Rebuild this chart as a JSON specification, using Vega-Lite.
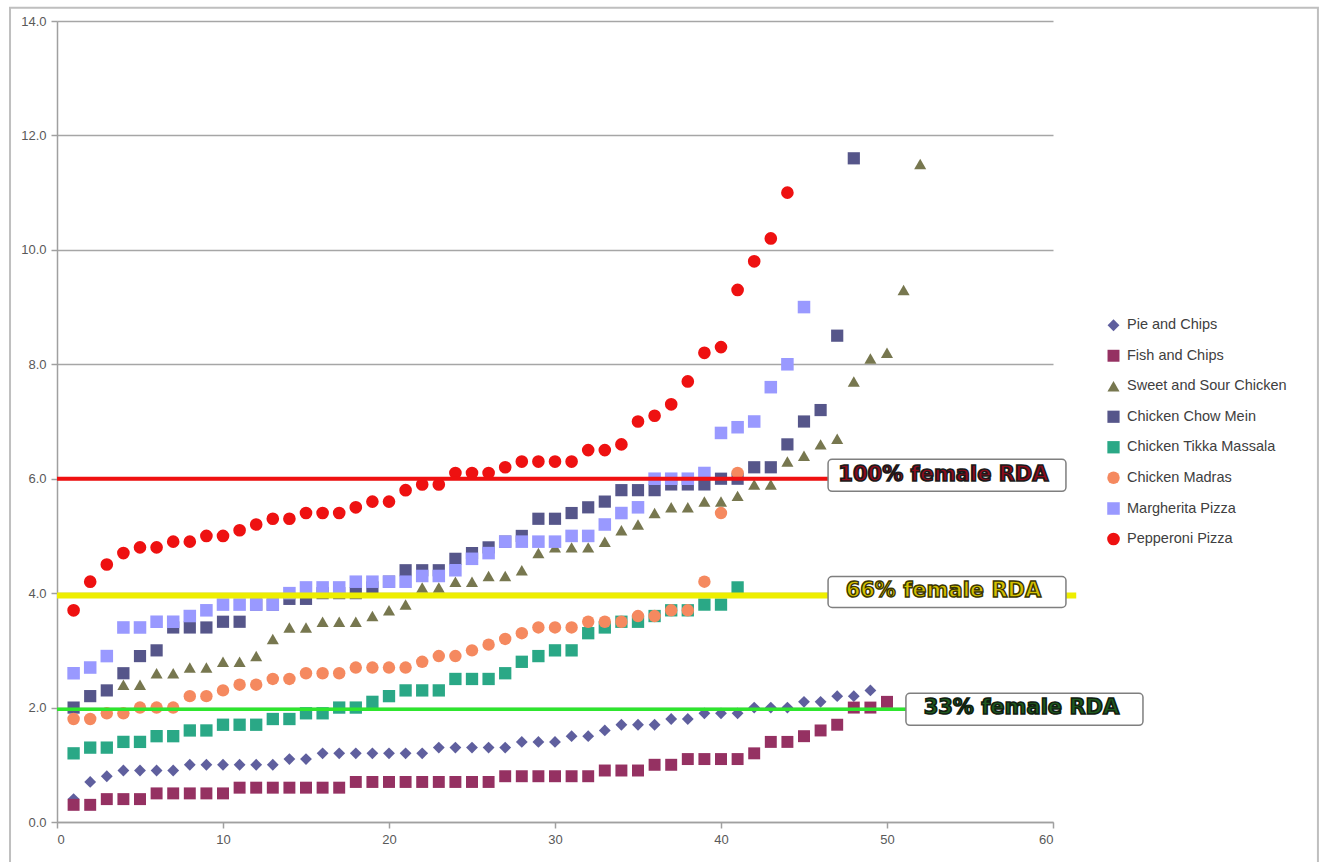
{
  "$schema": "https://vega.github.io/schema/vega-lite/v6.json",
  "width": 996,
  "height": 801,
  "autosize": "none",
  "padding": {"left": 57, "top": 21, "right": 274, "bottom": 40},
  "background": "white",
  "config": {
    "view": {"stroke": null},
    "font": "Liberation Sans",
    "axis": {"labelFont": "Liberation Sans", "labelFontSize": 13, "labelColor": "#595959", "domainColor": "#A0A0A0", "domainWidth": 1.5, "tickColor": "#A0A0A0", "tickWidth": 1.5, "tickSize": 6, "labelPadding": 5, "gridColor": "#A6A6A6", "gridWidth": 1.5}
  },
  "layer": [
    {
      "data": {"values": [{"x": -2.83, "x2": 75.96, "y": -1, "y2": 14.23}]},
      "mark": {"type": "rect", "fill": null, "fillOpacity": 0, "stroke": "#BFBFBF", "strokeWidth": 2, "clip": false},
      "encoding": {
        "x": {"field": "x", "type": "quantitative", "scale": {"domain": [0, 60], "nice": false}, "axis": {"title": null}},
        "x2": {"field": "x2"},
        "y": {"field": "y", "type": "quantitative", "scale": {"domain": [0, 14], "nice": false}, "axis": {"title": null}},
        "y2": {"field": "y2"}
      }
    },
    {
      "data": {"values": [
        {"s":"Pie and Chips","x":1,"y":0.4},{"s":"Pie and Chips","x":2,"y":0.7},{"s":"Pie and Chips","x":3,"y":0.8},{"s":"Pie and Chips","x":4,"y":0.9},{"s":"Pie and Chips","x":5,"y":0.9},{"s":"Pie and Chips","x":6,"y":0.9},{"s":"Pie and Chips","x":7,"y":0.9},{"s":"Pie and Chips","x":8,"y":1.0},{"s":"Pie and Chips","x":9,"y":1.0},{"s":"Pie and Chips","x":10,"y":1.0},
        {"s":"Pie and Chips","x":11,"y":1.0},{"s":"Pie and Chips","x":12,"y":1.0},{"s":"Pie and Chips","x":13,"y":1.0},{"s":"Pie and Chips","x":14,"y":1.1},{"s":"Pie and Chips","x":15,"y":1.1},{"s":"Pie and Chips","x":16,"y":1.2},{"s":"Pie and Chips","x":17,"y":1.2},{"s":"Pie and Chips","x":18,"y":1.2},{"s":"Pie and Chips","x":19,"y":1.2},{"s":"Pie and Chips","x":20,"y":1.2},
        {"s":"Pie and Chips","x":21,"y":1.2},{"s":"Pie and Chips","x":22,"y":1.2},{"s":"Pie and Chips","x":23,"y":1.3},{"s":"Pie and Chips","x":24,"y":1.3},{"s":"Pie and Chips","x":25,"y":1.3},{"s":"Pie and Chips","x":26,"y":1.3},{"s":"Pie and Chips","x":27,"y":1.3},{"s":"Pie and Chips","x":28,"y":1.4},{"s":"Pie and Chips","x":29,"y":1.4},{"s":"Pie and Chips","x":30,"y":1.4},
        {"s":"Pie and Chips","x":31,"y":1.5},{"s":"Pie and Chips","x":32,"y":1.5},{"s":"Pie and Chips","x":33,"y":1.6},{"s":"Pie and Chips","x":34,"y":1.7},{"s":"Pie and Chips","x":35,"y":1.7},{"s":"Pie and Chips","x":36,"y":1.7},{"s":"Pie and Chips","x":37,"y":1.8},{"s":"Pie and Chips","x":38,"y":1.8},{"s":"Pie and Chips","x":39,"y":1.9},{"s":"Pie and Chips","x":40,"y":1.9},
        {"s":"Pie and Chips","x":41,"y":1.9},{"s":"Pie and Chips","x":42,"y":2.0},{"s":"Pie and Chips","x":43,"y":2.0},{"s":"Pie and Chips","x":44,"y":2.0},{"s":"Pie and Chips","x":45,"y":2.1},{"s":"Pie and Chips","x":46,"y":2.1},{"s":"Pie and Chips","x":47,"y":2.2},{"s":"Pie and Chips","x":48,"y":2.2},{"s":"Pie and Chips","x":49,"y":2.3},

        {"s":"Fish and Chips","x":1,"y":0.3},{"s":"Fish and Chips","x":2,"y":0.3},{"s":"Fish and Chips","x":3,"y":0.4},{"s":"Fish and Chips","x":4,"y":0.4},{"s":"Fish and Chips","x":5,"y":0.4},{"s":"Fish and Chips","x":6,"y":0.5},{"s":"Fish and Chips","x":7,"y":0.5},{"s":"Fish and Chips","x":8,"y":0.5},{"s":"Fish and Chips","x":9,"y":0.5},{"s":"Fish and Chips","x":10,"y":0.5},
        {"s":"Fish and Chips","x":11,"y":0.6},{"s":"Fish and Chips","x":12,"y":0.6},{"s":"Fish and Chips","x":13,"y":0.6},{"s":"Fish and Chips","x":14,"y":0.6},{"s":"Fish and Chips","x":15,"y":0.6},{"s":"Fish and Chips","x":16,"y":0.6},{"s":"Fish and Chips","x":17,"y":0.6},{"s":"Fish and Chips","x":18,"y":0.7},{"s":"Fish and Chips","x":19,"y":0.7},{"s":"Fish and Chips","x":20,"y":0.7},
        {"s":"Fish and Chips","x":21,"y":0.7},{"s":"Fish and Chips","x":22,"y":0.7},{"s":"Fish and Chips","x":23,"y":0.7},{"s":"Fish and Chips","x":24,"y":0.7},{"s":"Fish and Chips","x":25,"y":0.7},{"s":"Fish and Chips","x":26,"y":0.7},{"s":"Fish and Chips","x":27,"y":0.8},{"s":"Fish and Chips","x":28,"y":0.8},{"s":"Fish and Chips","x":29,"y":0.8},{"s":"Fish and Chips","x":30,"y":0.8},
        {"s":"Fish and Chips","x":31,"y":0.8},{"s":"Fish and Chips","x":32,"y":0.8},{"s":"Fish and Chips","x":33,"y":0.9},{"s":"Fish and Chips","x":34,"y":0.9},{"s":"Fish and Chips","x":35,"y":0.9},{"s":"Fish and Chips","x":36,"y":1.0},{"s":"Fish and Chips","x":37,"y":1.0},{"s":"Fish and Chips","x":38,"y":1.1},{"s":"Fish and Chips","x":39,"y":1.1},{"s":"Fish and Chips","x":40,"y":1.1},
        {"s":"Fish and Chips","x":41,"y":1.1},{"s":"Fish and Chips","x":42,"y":1.2},{"s":"Fish and Chips","x":43,"y":1.4},{"s":"Fish and Chips","x":44,"y":1.4},{"s":"Fish and Chips","x":45,"y":1.5},{"s":"Fish and Chips","x":46,"y":1.6},{"s":"Fish and Chips","x":47,"y":1.7},{"s":"Fish and Chips","x":48,"y":2.0},{"s":"Fish and Chips","x":49,"y":2.0},{"s":"Fish and Chips","x":50,"y":2.1},

        {"s":"Sweet and Sour Chicken","x":4,"y":2.4},{"s":"Sweet and Sour Chicken","x":5,"y":2.4},{"s":"Sweet and Sour Chicken","x":6,"y":2.6},{"s":"Sweet and Sour Chicken","x":7,"y":2.6},{"s":"Sweet and Sour Chicken","x":8,"y":2.7},{"s":"Sweet and Sour Chicken","x":9,"y":2.7},{"s":"Sweet and Sour Chicken","x":10,"y":2.8},
        {"s":"Sweet and Sour Chicken","x":11,"y":2.8},{"s":"Sweet and Sour Chicken","x":12,"y":2.9},{"s":"Sweet and Sour Chicken","x":13,"y":3.2},{"s":"Sweet and Sour Chicken","x":14,"y":3.4},{"s":"Sweet and Sour Chicken","x":15,"y":3.4},{"s":"Sweet and Sour Chicken","x":16,"y":3.5},{"s":"Sweet and Sour Chicken","x":17,"y":3.5},{"s":"Sweet and Sour Chicken","x":18,"y":3.5},{"s":"Sweet and Sour Chicken","x":19,"y":3.6},{"s":"Sweet and Sour Chicken","x":20,"y":3.7},
        {"s":"Sweet and Sour Chicken","x":21,"y":3.8},{"s":"Sweet and Sour Chicken","x":22,"y":4.1},{"s":"Sweet and Sour Chicken","x":23,"y":4.1},{"s":"Sweet and Sour Chicken","x":24,"y":4.2},{"s":"Sweet and Sour Chicken","x":25,"y":4.2},{"s":"Sweet and Sour Chicken","x":26,"y":4.3},{"s":"Sweet and Sour Chicken","x":27,"y":4.3},{"s":"Sweet and Sour Chicken","x":28,"y":4.4},{"s":"Sweet and Sour Chicken","x":29,"y":4.7},{"s":"Sweet and Sour Chicken","x":30,"y":4.8},
        {"s":"Sweet and Sour Chicken","x":31,"y":4.8},{"s":"Sweet and Sour Chicken","x":32,"y":4.8},{"s":"Sweet and Sour Chicken","x":33,"y":4.9},{"s":"Sweet and Sour Chicken","x":34,"y":5.1},{"s":"Sweet and Sour Chicken","x":35,"y":5.2},{"s":"Sweet and Sour Chicken","x":36,"y":5.4},{"s":"Sweet and Sour Chicken","x":37,"y":5.5},{"s":"Sweet and Sour Chicken","x":38,"y":5.5},{"s":"Sweet and Sour Chicken","x":39,"y":5.6},{"s":"Sweet and Sour Chicken","x":40,"y":5.6},
        {"s":"Sweet and Sour Chicken","x":41,"y":5.7},{"s":"Sweet and Sour Chicken","x":42,"y":5.9},{"s":"Sweet and Sour Chicken","x":43,"y":5.9},{"s":"Sweet and Sour Chicken","x":44,"y":6.3},{"s":"Sweet and Sour Chicken","x":45,"y":6.4},{"s":"Sweet and Sour Chicken","x":46,"y":6.6},{"s":"Sweet and Sour Chicken","x":47,"y":6.7},{"s":"Sweet and Sour Chicken","x":48,"y":7.7},{"s":"Sweet and Sour Chicken","x":49,"y":8.1},{"s":"Sweet and Sour Chicken","x":50,"y":8.2},
        {"s":"Sweet and Sour Chicken","x":51,"y":9.3},{"s":"Sweet and Sour Chicken","x":52,"y":11.5},

        {"s":"Chicken Chow Mein","x":1,"y":2.0},{"s":"Chicken Chow Mein","x":2,"y":2.2},{"s":"Chicken Chow Mein","x":3,"y":2.3},{"s":"Chicken Chow Mein","x":4,"y":2.6},{"s":"Chicken Chow Mein","x":5,"y":2.9},{"s":"Chicken Chow Mein","x":6,"y":3.0},{"s":"Chicken Chow Mein","x":7,"y":3.4},{"s":"Chicken Chow Mein","x":8,"y":3.4},{"s":"Chicken Chow Mein","x":9,"y":3.4},{"s":"Chicken Chow Mein","x":10,"y":3.5},
        {"s":"Chicken Chow Mein","x":11,"y":3.5},{"s":"Chicken Chow Mein","x":12,"y":3.8},{"s":"Chicken Chow Mein","x":13,"y":3.8},{"s":"Chicken Chow Mein","x":14,"y":3.9},{"s":"Chicken Chow Mein","x":15,"y":3.9},{"s":"Chicken Chow Mein","x":16,"y":4.0},{"s":"Chicken Chow Mein","x":17,"y":4.0},{"s":"Chicken Chow Mein","x":18,"y":4.0},{"s":"Chicken Chow Mein","x":19,"y":4.1},{"s":"Chicken Chow Mein","x":20,"y":4.2},
        {"s":"Chicken Chow Mein","x":21,"y":4.4},{"s":"Chicken Chow Mein","x":22,"y":4.4},{"s":"Chicken Chow Mein","x":23,"y":4.4},{"s":"Chicken Chow Mein","x":24,"y":4.6},{"s":"Chicken Chow Mein","x":25,"y":4.7},{"s":"Chicken Chow Mein","x":26,"y":4.8},{"s":"Chicken Chow Mein","x":27,"y":4.9},{"s":"Chicken Chow Mein","x":28,"y":5.0},{"s":"Chicken Chow Mein","x":29,"y":5.3},{"s":"Chicken Chow Mein","x":30,"y":5.3},
        {"s":"Chicken Chow Mein","x":31,"y":5.4},{"s":"Chicken Chow Mein","x":32,"y":5.5},{"s":"Chicken Chow Mein","x":33,"y":5.6},{"s":"Chicken Chow Mein","x":34,"y":5.8},{"s":"Chicken Chow Mein","x":35,"y":5.8},{"s":"Chicken Chow Mein","x":36,"y":5.8},{"s":"Chicken Chow Mein","x":37,"y":5.9},{"s":"Chicken Chow Mein","x":38,"y":5.9},{"s":"Chicken Chow Mein","x":39,"y":5.9},{"s":"Chicken Chow Mein","x":40,"y":6.0},
        {"s":"Chicken Chow Mein","x":41,"y":6.0},{"s":"Chicken Chow Mein","x":42,"y":6.2},{"s":"Chicken Chow Mein","x":43,"y":6.2},{"s":"Chicken Chow Mein","x":44,"y":6.6},{"s":"Chicken Chow Mein","x":45,"y":7.0},{"s":"Chicken Chow Mein","x":46,"y":7.2},{"s":"Chicken Chow Mein","x":47,"y":8.5},{"s":"Chicken Chow Mein","x":48,"y":11.6},

        {"s":"Chicken Tikka Massala","x":1,"y":1.2},{"s":"Chicken Tikka Massala","x":2,"y":1.3},{"s":"Chicken Tikka Massala","x":3,"y":1.3},{"s":"Chicken Tikka Massala","x":4,"y":1.4},{"s":"Chicken Tikka Massala","x":5,"y":1.4},{"s":"Chicken Tikka Massala","x":6,"y":1.5},{"s":"Chicken Tikka Massala","x":7,"y":1.5},{"s":"Chicken Tikka Massala","x":8,"y":1.6},{"s":"Chicken Tikka Massala","x":9,"y":1.6},{"s":"Chicken Tikka Massala","x":10,"y":1.7},
        {"s":"Chicken Tikka Massala","x":11,"y":1.7},{"s":"Chicken Tikka Massala","x":12,"y":1.7},{"s":"Chicken Tikka Massala","x":13,"y":1.8},{"s":"Chicken Tikka Massala","x":14,"y":1.8},{"s":"Chicken Tikka Massala","x":15,"y":1.9},{"s":"Chicken Tikka Massala","x":16,"y":1.9},{"s":"Chicken Tikka Massala","x":17,"y":2.0},{"s":"Chicken Tikka Massala","x":18,"y":2.0},{"s":"Chicken Tikka Massala","x":19,"y":2.1},{"s":"Chicken Tikka Massala","x":20,"y":2.2},
        {"s":"Chicken Tikka Massala","x":21,"y":2.3},{"s":"Chicken Tikka Massala","x":22,"y":2.3},{"s":"Chicken Tikka Massala","x":23,"y":2.3},{"s":"Chicken Tikka Massala","x":24,"y":2.5},{"s":"Chicken Tikka Massala","x":25,"y":2.5},{"s":"Chicken Tikka Massala","x":26,"y":2.5},{"s":"Chicken Tikka Massala","x":27,"y":2.6},{"s":"Chicken Tikka Massala","x":28,"y":2.8},{"s":"Chicken Tikka Massala","x":29,"y":2.9},{"s":"Chicken Tikka Massala","x":30,"y":3.0},
        {"s":"Chicken Tikka Massala","x":31,"y":3.0},{"s":"Chicken Tikka Massala","x":32,"y":3.3},{"s":"Chicken Tikka Massala","x":33,"y":3.4},{"s":"Chicken Tikka Massala","x":34,"y":3.5},{"s":"Chicken Tikka Massala","x":35,"y":3.5},{"s":"Chicken Tikka Massala","x":36,"y":3.6},{"s":"Chicken Tikka Massala","x":37,"y":3.7},{"s":"Chicken Tikka Massala","x":38,"y":3.7},{"s":"Chicken Tikka Massala","x":39,"y":3.8},{"s":"Chicken Tikka Massala","x":40,"y":3.8},
        {"s":"Chicken Tikka Massala","x":41,"y":4.1},

        {"s":"Chicken Madras","x":1,"y":1.8},{"s":"Chicken Madras","x":2,"y":1.8},{"s":"Chicken Madras","x":3,"y":1.9},{"s":"Chicken Madras","x":4,"y":1.9},{"s":"Chicken Madras","x":5,"y":2.0},{"s":"Chicken Madras","x":6,"y":2.0},{"s":"Chicken Madras","x":7,"y":2.0},{"s":"Chicken Madras","x":8,"y":2.2},{"s":"Chicken Madras","x":9,"y":2.2},{"s":"Chicken Madras","x":10,"y":2.3},
        {"s":"Chicken Madras","x":11,"y":2.4},{"s":"Chicken Madras","x":12,"y":2.4},{"s":"Chicken Madras","x":13,"y":2.5},{"s":"Chicken Madras","x":14,"y":2.5},{"s":"Chicken Madras","x":15,"y":2.6},{"s":"Chicken Madras","x":16,"y":2.6},{"s":"Chicken Madras","x":17,"y":2.6},{"s":"Chicken Madras","x":18,"y":2.7},{"s":"Chicken Madras","x":19,"y":2.7},{"s":"Chicken Madras","x":20,"y":2.7},
        {"s":"Chicken Madras","x":21,"y":2.7},{"s":"Chicken Madras","x":22,"y":2.8},{"s":"Chicken Madras","x":23,"y":2.9},{"s":"Chicken Madras","x":24,"y":2.9},{"s":"Chicken Madras","x":25,"y":3.0},{"s":"Chicken Madras","x":26,"y":3.1},{"s":"Chicken Madras","x":27,"y":3.2},{"s":"Chicken Madras","x":28,"y":3.3},{"s":"Chicken Madras","x":29,"y":3.4},{"s":"Chicken Madras","x":30,"y":3.4},
        {"s":"Chicken Madras","x":31,"y":3.4},{"s":"Chicken Madras","x":32,"y":3.5},{"s":"Chicken Madras","x":33,"y":3.5},{"s":"Chicken Madras","x":34,"y":3.5},{"s":"Chicken Madras","x":35,"y":3.6},{"s":"Chicken Madras","x":36,"y":3.6},{"s":"Chicken Madras","x":37,"y":3.7},{"s":"Chicken Madras","x":38,"y":3.7},{"s":"Chicken Madras","x":39,"y":4.2},{"s":"Chicken Madras","x":40,"y":5.4},
        {"s":"Chicken Madras","x":41,"y":6.1},

        {"s":"Margherita Pizza","x":1,"y":2.6},{"s":"Margherita Pizza","x":2,"y":2.7},{"s":"Margherita Pizza","x":3,"y":2.9},{"s":"Margherita Pizza","x":4,"y":3.4},{"s":"Margherita Pizza","x":5,"y":3.4},{"s":"Margherita Pizza","x":6,"y":3.5},{"s":"Margherita Pizza","x":7,"y":3.5},{"s":"Margherita Pizza","x":8,"y":3.6},{"s":"Margherita Pizza","x":9,"y":3.7},{"s":"Margherita Pizza","x":10,"y":3.8},
        {"s":"Margherita Pizza","x":11,"y":3.8},{"s":"Margherita Pizza","x":12,"y":3.8},{"s":"Margherita Pizza","x":13,"y":3.8},{"s":"Margherita Pizza","x":14,"y":4.0},{"s":"Margherita Pizza","x":15,"y":4.1},{"s":"Margherita Pizza","x":16,"y":4.1},{"s":"Margherita Pizza","x":17,"y":4.1},{"s":"Margherita Pizza","x":18,"y":4.2},{"s":"Margherita Pizza","x":19,"y":4.2},{"s":"Margherita Pizza","x":20,"y":4.2},
        {"s":"Margherita Pizza","x":21,"y":4.2},{"s":"Margherita Pizza","x":22,"y":4.3},{"s":"Margherita Pizza","x":23,"y":4.3},{"s":"Margherita Pizza","x":24,"y":4.4},{"s":"Margherita Pizza","x":25,"y":4.6},{"s":"Margherita Pizza","x":26,"y":4.7},{"s":"Margherita Pizza","x":27,"y":4.9},{"s":"Margherita Pizza","x":28,"y":4.9},{"s":"Margherita Pizza","x":29,"y":4.9},{"s":"Margherita Pizza","x":30,"y":4.9},
        {"s":"Margherita Pizza","x":31,"y":5.0},{"s":"Margherita Pizza","x":32,"y":5.0},{"s":"Margherita Pizza","x":33,"y":5.2},{"s":"Margherita Pizza","x":34,"y":5.4},{"s":"Margherita Pizza","x":35,"y":5.5},{"s":"Margherita Pizza","x":36,"y":6.0},{"s":"Margherita Pizza","x":37,"y":6.0},{"s":"Margherita Pizza","x":38,"y":6.0},{"s":"Margherita Pizza","x":39,"y":6.1},{"s":"Margherita Pizza","x":40,"y":6.8},
        {"s":"Margherita Pizza","x":41,"y":6.9},{"s":"Margherita Pizza","x":42,"y":7.0},{"s":"Margherita Pizza","x":43,"y":7.6},{"s":"Margherita Pizza","x":44,"y":8.0},{"s":"Margherita Pizza","x":45,"y":9.0},

        {"s":"Pepperoni Pizza","x":1,"y":3.7},{"s":"Pepperoni Pizza","x":2,"y":4.2},{"s":"Pepperoni Pizza","x":3,"y":4.5},{"s":"Pepperoni Pizza","x":4,"y":4.7},{"s":"Pepperoni Pizza","x":5,"y":4.8},{"s":"Pepperoni Pizza","x":6,"y":4.8},{"s":"Pepperoni Pizza","x":7,"y":4.9},{"s":"Pepperoni Pizza","x":8,"y":4.9},{"s":"Pepperoni Pizza","x":9,"y":5.0},{"s":"Pepperoni Pizza","x":10,"y":5.0},
        {"s":"Pepperoni Pizza","x":11,"y":5.1},{"s":"Pepperoni Pizza","x":12,"y":5.2},{"s":"Pepperoni Pizza","x":13,"y":5.3},{"s":"Pepperoni Pizza","x":14,"y":5.3},{"s":"Pepperoni Pizza","x":15,"y":5.4},{"s":"Pepperoni Pizza","x":16,"y":5.4},{"s":"Pepperoni Pizza","x":17,"y":5.4},{"s":"Pepperoni Pizza","x":18,"y":5.5},{"s":"Pepperoni Pizza","x":19,"y":5.6},{"s":"Pepperoni Pizza","x":20,"y":5.6},
        {"s":"Pepperoni Pizza","x":21,"y":5.8},{"s":"Pepperoni Pizza","x":22,"y":5.9},{"s":"Pepperoni Pizza","x":23,"y":5.9},{"s":"Pepperoni Pizza","x":24,"y":6.1},{"s":"Pepperoni Pizza","x":25,"y":6.1},{"s":"Pepperoni Pizza","x":26,"y":6.1},{"s":"Pepperoni Pizza","x":27,"y":6.2},{"s":"Pepperoni Pizza","x":28,"y":6.3},{"s":"Pepperoni Pizza","x":29,"y":6.3},{"s":"Pepperoni Pizza","x":30,"y":6.3},
        {"s":"Pepperoni Pizza","x":31,"y":6.3},{"s":"Pepperoni Pizza","x":32,"y":6.5},{"s":"Pepperoni Pizza","x":33,"y":6.5},{"s":"Pepperoni Pizza","x":34,"y":6.6},{"s":"Pepperoni Pizza","x":35,"y":7.0},{"s":"Pepperoni Pizza","x":36,"y":7.1},{"s":"Pepperoni Pizza","x":37,"y":7.3},{"s":"Pepperoni Pizza","x":38,"y":7.7},{"s":"Pepperoni Pizza","x":39,"y":8.2},{"s":"Pepperoni Pizza","x":40,"y":8.3},
        {"s":"Pepperoni Pizza","x":41,"y":9.3},{"s":"Pepperoni Pizza","x":42,"y":9.8},{"s":"Pepperoni Pizza","x":43,"y":10.2},{"s":"Pepperoni Pizza","x":44,"y":11.0}
      ]},
      "mark": {"type": "point", "filled": true, "opacity": 1},
      "encoding": {
        "x": {"field": "x", "type": "quantitative", "scale": {"domain": [0, 60], "nice": false},
              "axis": {"title": null, "values": [0, 10, 20, 30, 40, 50, 60], "grid": false, "labelFontSize": 13}},
        "y": {"field": "y", "type": "quantitative", "scale": {"domain": [0, 14], "nice": false},
              "axis": {"title": null, "values": [0, 2, 4, 6, 8, 10, 12, 14], "format": ".1f", "grid": true, "labelFontSize": 13}},
        "color": {"field": "s", "type": "nominal",
          "scale": {"domain": ["Pie and Chips", "Fish and Chips", "Sweet and Sour Chicken", "Chicken Chow Mein", "Chicken Tikka Massala", "Chicken Madras", "Margherita Pizza", "Pepperoni Pizza"],
                    "range": ["#5F5F9E", "#953162", "#77774F", "#56568A", "#2AA886", "#F5895F", "#9999FF", "#EE1111"]},
          "legend": {"title": null, "orient": "none", "legendX": 1049, "legendY": 297, "labelFont": "Liberation Sans", "labelFontSize": 14.5, "labelColor": "#404040", "symbolSize": 90, "rowPadding": 15.5, "labelOffset": 6}},
        "shape": {"field": "s", "type": "nominal",
          "scale": {"domain": ["Pie and Chips", "Fish and Chips", "Sweet and Sour Chicken", "Chicken Chow Mein", "Chicken Tikka Massala", "Chicken Madras", "Margherita Pizza", "Pepperoni Pizza"],
                    "range": ["diamond", "square", "triangle-up", "square", "square", "circle", "square", "circle"]},
          "legend": {"title": null, "orient": "none", "legendX": 1049, "legendY": 297, "labelFont": "Liberation Sans", "labelFontSize": 14.5, "labelColor": "#404040", "symbolSize": 90, "rowPadding": 15.5, "labelOffset": 6}},
        "size": {"field": "s", "type": "nominal",
          "scale": {"domain": ["Pie and Chips", "Fish and Chips", "Sweet and Sour Chicken", "Chicken Chow Mein", "Chicken Tikka Massala", "Chicken Madras", "Margherita Pizza", "Pepperoni Pizza"],
                    "range": [140, 160, 210, 170, 160, 140, 165, 140]},
          "legend": null}
      }
    },
    {
      "data": {"values": [{"x": 0, "x2": 60, "y": 6.0}]},
      "mark": {"type": "rule", "color": "#F01010", "strokeWidth": 4, "clip": false},
      "encoding": {"x": {"field": "x", "type": "quantitative"}, "x2": {"field": "x2"}, "y": {"field": "y", "type": "quantitative"}}
    },
    {
      "data": {"values": [{"x": 0, "x2": 61.4, "y": 3.96}]},
      "mark": {"type": "rule", "color": "#EEEE00", "strokeWidth": 6, "clip": false},
      "encoding": {"x": {"field": "x", "type": "quantitative"}, "x2": {"field": "x2"}, "y": {"field": "y", "type": "quantitative"}}
    },
    {
      "data": {"values": [{"x": 0, "x2": 51.2, "y": 1.97}]},
      "mark": {"type": "rule", "color": "#2EE62E", "strokeWidth": 3.5, "clip": false},
      "encoding": {"x": {"field": "x", "type": "quantitative"}, "x2": {"field": "x2"}, "y": {"field": "y", "type": "quantitative"}}
    },
    {
      "data": {"values": [
        {"x": 46.45, "x2": 60.78, "y": 5.78, "y2": 6.34},
        {"x": 46.45, "x2": 60.78, "y": 3.75, "y2": 4.29},
        {"x": 51.14, "x2": 65.42, "y": 1.69, "y2": 2.25}
      ]},
      "mark": {"type": "rect", "fill": "white", "stroke": "#7F7F7F", "strokeWidth": 1.5, "cornerRadius": 4, "clip": false},
      "encoding": {"x": {"field": "x", "type": "quantitative"}, "x2": {"field": "x2"}, "y": {"field": "y", "type": "quantitative"}, "y2": {"field": "y2"}}
    },
    {
      "data": {"values": [{"label": "100% female RDA", "x": 53.4, "y": 6.06}]},
      "mark": {"type": "text", "font": "DejaVu Sans", "fontWeight": "bold", "fontSize": 21, "fill": "#8E0B1C", "stroke": "#1A1A1A", "strokeWidth": 1.6, "align": "center", "baseline": "middle", "clip": false},
      "encoding": {"x": {"field": "x", "type": "quantitative"}, "y": {"field": "y", "type": "quantitative"}, "text": {"field": "label"}}
    },
    {
      "data": {"values": [{"label": "66% female RDA", "x": 53.4, "y": 4.03}]},
      "mark": {"type": "text", "font": "DejaVu Sans", "fontWeight": "bold", "fontSize": 21, "fill": "#D4C000", "stroke": "#3A3500", "strokeWidth": 1.4, "align": "center", "baseline": "middle", "clip": false},
      "encoding": {"x": {"field": "x", "type": "quantitative"}, "y": {"field": "y", "type": "quantitative"}, "text": {"field": "label"}}
    },
    {
      "data": {"values": [{"label": "33% female RDA", "x": 58.1, "y": 1.99}]},
      "mark": {"type": "text", "font": "DejaVu Sans", "fontWeight": "bold", "fontSize": 21, "fill": "#1E5A1E", "stroke": "#102010", "strokeWidth": 1.6, "align": "center", "baseline": "middle", "clip": false},
      "encoding": {"x": {"field": "x", "type": "quantitative"}, "y": {"field": "y", "type": "quantitative"}, "text": {"field": "label"}}
    }
  ]
}
